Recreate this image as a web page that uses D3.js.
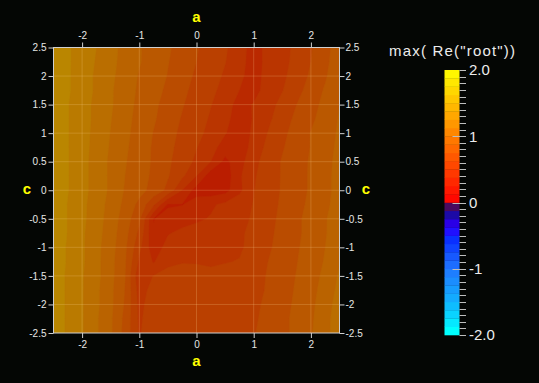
<!DOCTYPE html>
<html>
<head>
<meta charset="utf-8">
<script src="https://cdn.jsdelivr.net/npm/d3@7/dist/d3.min.js"></script>
<style>
  html, body { margin:0; padding:0; background:#040604; overflow:hidden; }
  svg { display:block; }
  text { font-family: "Liberation Sans", Arial, Helvetica, sans-serif; }
</style>
</head>
<body>
<svg id="chart" width="539" height="383"></svg>
<script>
// ---------------- data ----------------
const aValues = [-2.5,-2.25,-2,-1.75,-1.5,-1.25,-1,-0.75,-0.5,-0.25,0,0.25,0.5,0.75,1,1.25,1.5,1.75,2,2.25,2.5];
const cValues = [2.5,2.25,2,1.75,1.5,1.25,1,0.75,0.5,0.25,0,-0.25,-0.5,-0.75,-1,-1.25,-1.5,-1.75,-2,-2.25,-2.5];
// max(Re(root)) sampled on the (a, c) grid, one row per c value (top to bottom)
const maxReRoot = [
  [1.46,1.39,1.32,1.25,1.16,1.09,1.01,0.95,0.89,0.83,0.76,0.70,0.64,0.56,0.44,0.54,0.59,0.65,0.74,0.83,0.95],
  [1.46,1.39,1.32,1.24,1.16,1.08,1.01,0.94,0.88,0.82,0.75,0.69,0.63,0.55,0.44,0.54,0.59,0.66,0.75,0.84,0.96],
  [1.46,1.39,1.31,1.23,1.15,1.07,0.99,0.93,0.87,0.80,0.73,0.67,0.61,0.53,0.44,0.55,0.60,0.68,0.77,0.86,0.97],
  [1.46,1.39,1.31,1.23,1.14,1.06,0.98,0.92,0.85,0.78,0.71,0.65,0.59,0.50,0.45,0.56,0.62,0.71,0.80,0.89,0.98],
  [1.46,1.38,1.30,1.22,1.14,1.05,0.97,0.90,0.83,0.76,0.69,0.63,0.56,0.45,0.51,0.58,0.66,0.75,0.83,0.91,1.00],
  [1.46,1.38,1.30,1.22,1.13,1.04,0.96,0.89,0.81,0.74,0.68,0.61,0.54,0.43,0.51,0.60,0.69,0.78,0.85,0.93,1.01],
  [1.46,1.38,1.30,1.21,1.12,1.03,0.95,0.87,0.80,0.72,0.66,0.59,0.51,0.41,0.53,0.63,0.72,0.80,0.88,0.94,1.02],
  [1.46,1.38,1.29,1.21,1.11,1.02,0.94,0.86,0.78,0.71,0.63,0.55,0.44,0.42,0.55,0.66,0.74,0.81,0.88,0.95,1.03],
  [1.46,1.38,1.29,1.20,1.10,1.01,0.93,0.86,0.77,0.69,0.60,0.50,0.34,0.45,0.59,0.68,0.76,0.82,0.89,0.96,1.04],
  [1.46,1.38,1.29,1.20,1.10,1.00,0.93,0.85,0.76,0.65,0.50,0.30,0.30,0.48,0.61,0.69,0.76,0.83,0.89,0.96,1.05],
  [1.46,1.38,1.29,1.20,1.10,0.99,0.92,0.83,0.72,0.50,0.32,0.30,0.33,0.47,0.62,0.70,0.76,0.83,0.89,0.96,1.05],
  [1.46,1.37,1.28,1.19,1.08,0.97,0.84,0.65,0.36,0.37,0.44,0.48,0.53,0.58,0.63,0.70,0.77,0.84,0.90,0.97,1.06],
  [1.46,1.37,1.28,1.18,1.07,0.94,0.78,0.37,0.42,0.45,0.48,0.51,0.55,0.59,0.64,0.71,0.78,0.85,0.92,0.99,1.07],
  [1.46,1.37,1.27,1.17,1.06,0.92,0.72,0.39,0.49,0.53,0.55,0.56,0.58,0.61,0.65,0.72,0.79,0.85,0.92,0.99,1.08],
  [1.46,1.36,1.27,1.16,1.05,0.90,0.66,0.42,0.55,0.57,0.58,0.58,0.59,0.61,0.66,0.73,0.80,0.86,0.93,1.00,1.10],
  [1.46,1.36,1.27,1.16,1.04,0.89,0.60,0.49,0.60,0.62,0.62,0.61,0.62,0.63,0.68,0.75,0.81,0.87,0.94,1.01,1.12],
  [1.46,1.35,1.26,1.16,1.04,0.88,0.53,0.63,0.66,0.66,0.65,0.65,0.66,0.67,0.70,0.76,0.82,0.88,0.95,1.03,1.14],
  [1.46,1.35,1.26,1.15,1.03,0.87,0.57,0.67,0.69,0.69,0.69,0.69,0.69,0.70,0.72,0.76,0.82,0.89,0.96,1.05,1.16],
  [1.46,1.35,1.26,1.15,1.03,0.86,0.59,0.69,0.70,0.71,0.71,0.71,0.71,0.72,0.73,0.77,0.83,0.90,0.97,1.07,1.18],
  [1.46,1.35,1.26,1.14,1.02,0.84,0.60,0.71,0.72,0.72,0.72,0.72,0.72,0.73,0.74,0.77,0.84,0.91,0.98,1.08,1.20],
  [1.46,1.35,1.26,1.14,1.02,0.83,0.61,0.72,0.73,0.73,0.73,0.73,0.73,0.74,0.745,0.78,0.84,0.91,0.99,1.08,1.21]
];
const aTicks = [-2,-1,0,1,2];
const cTicks = [-2.5,-2,-1.5,-1,-0.5,0,0.5,1,1.5,2,2.5];
const gridA = [-2,-1,0,1,2];
const gridC = [-2,-1.5,-1,-0.5,0,0.5,1,1.5,2];
const colorbarDomain = [-2, 2];
const colorbarBandCount = 32;
const colorbarLabelValues = [2, 1, 0, -1, -2];
const colorbarLabelTexts = ["2.0", "1", "0", "-1", "-2.0"];
const colorbarMinorStep = 0.1;
const colorbarTitle = 'max( Re("root"))';
const axisTitleX = "a";
const axisTitleY = "c";

// ---------------- layout ----------------
const svg = d3.select("#chart");
const plot = {x0: 53.5, x1: 339.5, y0: 47.5, y1: 333};
const x = d3.scaleLinear().domain([-2.5, 2.5]).range([plot.x0, plot.x1]);
const y = d3.scaleLinear().domain([-2.5, 2.5]).range([plot.y1, plot.y0]);

// colour lookup table (banded)
const negColor = d3.scaleLinear()
  .domain([-0.0625,-0.1875,-0.3125,-0.4375,-0.5625,-1.0,-1.5,-1.9375])
  .range(["#4a0a5e","#1c0aa6","#2a00e6","#2010ff","#0a30ff","#2077ff","#12b2ff","#00ffff"])
  .interpolate(d3.interpolateRgb).clamp(true);
function lut(v) {
  if (v >= 0) return d3.rgb(255, Math.max(0, Math.min(255, 127.5 * v)), 0).formatHex();
  return negColor(v);
}
const surfaceShade = 0.73;   // the surface is rendered darker than the legend
function surfaceColor(v) {
  const c = d3.rgb(lut(v));
  return d3.rgb(c.r * surfaceShade, c.g * surfaceShade, c.b * surfaceShade).formatHex();
}
const bandWidth = (colorbarDomain[1] - colorbarDomain[0]) / colorbarBandCount;
const bandStarts = d3.range(colorbarBandCount).map(i => colorbarDomain[0] + i * bandWidth);

// background
svg.append("rect").attr("width", 539).attr("height", 383).attr("fill", "#040604");

// clip
svg.append("clipPath").attr("id", "plotclip")
  .append("rect").attr("x", plot.x0).attr("y", plot.y0)
  .attr("width", plot.x1 - plot.x0).attr("height", plot.y1 - plot.y0);

const nA = aValues.length, nC = cValues.length;
const flat = [].concat(...maxReRoot);
const gx = d3.scaleLinear().domain([0.5, nA - 0.5]).range([x(aValues[0]), x(aValues[nA - 1])]);
const gy = d3.scaleLinear().domain([0.5, nC - 0.5]).range([y(cValues[0]), y(cValues[nC - 1])]);
const path = d3.geoPath(d3.geoTransform({
  point: function(px, py) { this.stream.point(gx(px), gy(py)); }
}));
const contours = d3.contours().size([nA, nC]).smooth(true).thresholds(bandStarts)(flat);

const gPlot = svg.append("g").attr("clip-path", "url(#plotclip)");
gPlot.append("rect").attr("x", plot.x0).attr("y", plot.y0)
  .attr("width", plot.x1 - plot.x0).attr("height", plot.y1 - plot.y0).attr("fill", "#000");
gPlot.selectAll("path.band").data(contours.filter(d => d.coordinates.length)).join("path")
  .attr("class", "band")
  .attr("d", path)
  .attr("fill", d => surfaceColor(d.value + bandWidth / 2))
  .attr("stroke", d => surfaceColor(d.value + bandWidth / 2))
  .attr("stroke-width", 0.4);

// grid lines
gPlot.selectAll("line.gv").data(gridA).join("line")
  .attr("x1", d => x(d)).attr("x2", d => x(d)).attr("y1", plot.y0).attr("y2", plot.y1)
  .attr("stroke", "#ffd890").attr("stroke-opacity", 0.22).attr("stroke-width", 1);
gPlot.selectAll("line.gh").data(gridC).join("line")
  .attr("y1", d => y(d)).attr("y2", d => y(d)).attr("x1", plot.x0).attr("x2", plot.x1)
  .attr("stroke", "#ffd890").attr("stroke-opacity", 0.22).attr("stroke-width", 1);

// frame
svg.append("rect").attr("x", plot.x0).attr("y", plot.y0)
  .attr("width", plot.x1 - plot.x0).attr("height", plot.y1 - plot.y0)
  .attr("fill", "none").attr("stroke", "#d0d0d0").attr("stroke-width", 1);

// axes
const fmt = d => String(d);
function styleAxis(g) {
  g.select(".domain").remove();
  g.selectAll(".tick line").attr("stroke", "#d0d0d0");
  g.selectAll(".tick text").attr("fill", "#e6e6e6").attr("font-size", 10)
    .attr("font-family", '"Liberation Sans", Arial, sans-serif');
}
svg.append("g").attr("transform", `translate(0,${plot.y1})`)
  .call(d3.axisBottom(x).tickValues(aTicks).tickFormat(fmt).tickSize(5).tickPadding(3)).call(styleAxis);
svg.append("g").attr("transform", `translate(0,${plot.y0})`)
  .call(d3.axisTop(x).tickValues(aTicks).tickFormat(fmt).tickSize(5).tickPadding(4)).call(styleAxis);
svg.append("g").attr("transform", `translate(${plot.x0},0)`)
  .call(d3.axisLeft(y).tickValues(cTicks).tickFormat(fmt).tickSize(5).tickPadding(2)).call(styleAxis);
svg.append("g").attr("transform", `translate(${plot.x1},0)`)
  .call(d3.axisRight(y).tickValues(cTicks).tickFormat(fmt).tickSize(5).tickPadding(1)).call(styleAxis);

// axis titles
const titleStyle = s => s.attr("fill", "#ffff00").attr("font-weight", "bold").attr("font-size", 15)
  .attr("text-anchor", "middle");
svg.append("text").text(axisTitleX).attr("x", x(0)).attr("y", 22).call(titleStyle);
svg.append("text").text(axisTitleX).attr("x", x(0)).attr("y", 366).call(titleStyle);
svg.append("text").text(axisTitleY).attr("x", 27).attr("y", y(0) + 4).call(titleStyle);
svg.append("text").text(axisTitleY).attr("x", 366).attr("y", y(0) + 4).call(titleStyle);

// colour bar
const cb = {x0: 444.5, x1: 459.5, y0: 70, y1: 335};
const yCb = d3.scaleLinear().domain(colorbarDomain).range([cb.y1, cb.y0]);
svg.append("g").selectAll("rect").data(bandStarts).join("rect")
  .attr("x", cb.x0).attr("width", cb.x1 - cb.x0)
  .attr("y", d => yCb(d + bandWidth)).attr("height", d => yCb(d) - yCb(d + bandWidth) + 0.3)
  .attr("fill", d => lut(d + bandWidth / 2));
const minorTicks = d3.range(Math.round((colorbarDomain[1] - colorbarDomain[0]) / colorbarMinorStep) + 1)
  .map(i => colorbarDomain[0] + i * colorbarMinorStep);
svg.append("g").selectAll("line").data(minorTicks).join("line")
  .attr("x1", d => (Math.abs(d) < 1e-9 || Math.abs(Math.abs(d) - 1) < 1e-9) ? cb.x1 - 7 : cb.x1)
  .attr("x2", cb.x1 + 6.5)
  .attr("y1", d => Math.round(yCb(d)) + 0.5).attr("y2", d => Math.round(yCb(d)) + 0.5)
  .attr("stroke", "#bdbdbd").attr("stroke-width", 1);
svg.append("g").selectAll("text").data(colorbarLabelValues).join("text")
  .text((d, i) => colorbarLabelTexts[i])
  .attr("x", 469).attr("y", d => yCb(d)).attr("dy", "0.36em")
  .attr("fill", "#ececec").attr("font-size", 15);
svg.append("text").text(colorbarTitle)
  .attr("x", 389).attr("y", 56).attr("fill", "#ececec").attr("font-size", 15)
  .attr("textLength", 126).attr("lengthAdjust", "spacing");
</script>
</body>
</html>
